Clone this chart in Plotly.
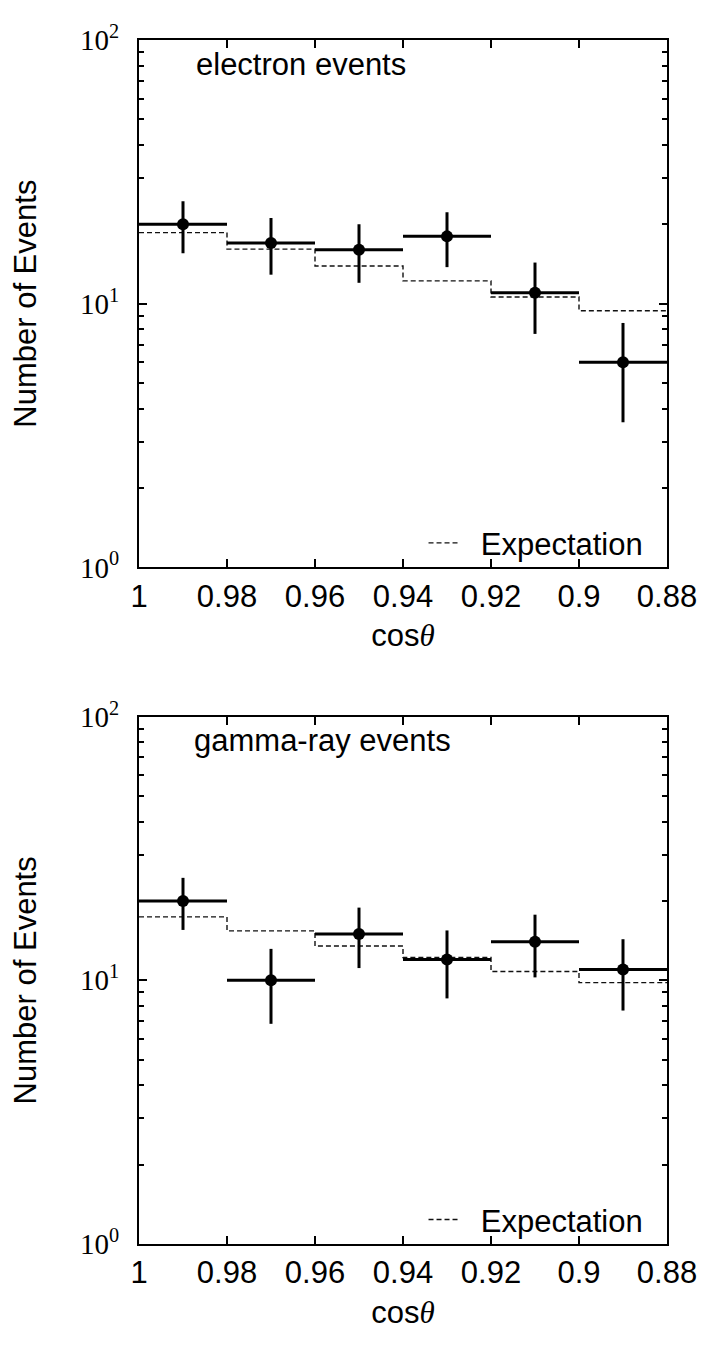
import plotly.graph_objects as go

# ---- data ----
bin_centers = [0.99, 0.97, 0.95, 0.93, 0.91, 0.89]
bin_edges = [1.00, 0.98, 0.96, 0.94, 0.92, 0.90, 0.88]
bin_halfwidth = [0.01, 0.01, 0.01, 0.01, 0.01, 0.01]

electron_counts = [20, 17, 16, 18, 11, 6]
electron_err = [4.47, 4.12, 4.00, 4.24, 3.32, 2.45]
electron_expect = [18.6, 16.1, 13.9, 12.2, 10.6, 9.4]

gamma_counts = [20, 10, 15, 12, 14, 11]
gamma_err = [4.47, 3.16, 3.87, 3.46, 3.74, 3.32]
gamma_expect = [17.4, 15.4, 13.5, 12.2, 10.8, 9.8]

x_tickvals = [1.0, 0.98, 0.96, 0.94, 0.92, 0.90, 0.88]
x_ticktext = ["1", "0.98", "0.96", "0.94", "0.92", "0.9", "0.88"]
y_tickvals = [1, 10, 100]
y_ticktext = ["10<sup>0</sup>", "10<sup>1</sup>", "10<sup>2</sup>"]

panel_labels = ["electron events", "gamma-ray events"]

SANS = "Liberation Sans, Arial, sans-serif"
SERIF = "Liberation Serif, Times New Roman, serif"
FS = 31

fig = go.Figure()

panels = [
    (electron_counts, electron_err, electron_expect, "x", "y", "legend"),
    (gamma_counts, gamma_err, gamma_expect, "x2", "y2", "legend2"),
]

for counts, err, expect, xa, ya, lg in panels:
    fig.add_trace(go.Scatter(
        x=bin_edges, y=expect + [expect[-1]],
        mode="lines", line=dict(shape="hv", color="#111111", width=1.4, dash="5px,3px"),
        name="\u00a0\u00a0Expectation", xaxis=xa, yaxis=ya, legend=lg, showlegend=True,
    ))
    fig.add_trace(go.Scatter(
        x=bin_centers, y=counts, mode="markers",
        marker=dict(color="black", size=12, symbol="circle"),
        error_x=dict(type="data", array=bin_halfwidth, color="black", thickness=3, width=0),
        error_y=dict(type="data", array=err, color="black", thickness=3, width=0),
        xaxis=xa, yaxis=ya, showlegend=False,
    ))

x_common = dict(
    range=[1.0, 0.88], tickvals=x_tickvals, ticktext=x_ticktext,
    ticks="inside", ticklen=8, tickwidth=1.5, tickcolor="black",
    showline=True, linecolor="black", linewidth=2, mirror="ticks",
    showgrid=False, zeroline=False,
    tickfont=dict(family=SANS, size=FS, color="black"),
    title=dict(text='cos<span style="font-family:Liberation Serif"><i>θ</i></span>',
               font=dict(family=SANS, size=FS, color="black"), standoff=12),
)
y_common = dict(
    type="log", range=[0, 2], tickvals=y_tickvals, ticktext=y_ticktext,
    ticks="inside", ticklen=8, tickwidth=1.5, tickcolor="black",
    minor=dict(ticks="inside", ticklen=5, tickwidth=1.5, tickcolor="black", dtick="D1", showgrid=False),
    showline=True, linecolor="black", linewidth=2, mirror="ticks",
    showgrid=False, zeroline=False,
    tickfont=dict(family=SERIF, size=29, color="black"),
    ticklabelstandoff=12,
    title=dict(text="Number of Events", font=dict(family=SANS, size=FS, color="black"), standoff=38),
)

top_dom = [0.562, 1.0]
bot_dom = [0.0, 0.438]

fig.update_layout(
    width=701, height=1337,
    margin=dict(l=125, r=41, t=19, b=101),
    paper_bgcolor="white", plot_bgcolor="white",
    xaxis=dict(x_common, domain=[0, 1], anchor="y"),
    yaxis=dict(y_common, domain=top_dom, anchor="x"),
    xaxis2=dict(x_common, domain=[0, 1], anchor="y2"),
    yaxis2=dict(y_common, domain=bot_dom, anchor="x2"),
    legend=dict(x=0.965, y=top_dom[0] + 0.02, xanchor="right", yanchor="middle",
                bgcolor="rgba(0,0,0,0)", font=dict(family=SANS, size=FS, color="black")),
    legend2=dict(x=0.965, y=bot_dom[0] + 0.02, xanchor="right", yanchor="middle",
                 bgcolor="rgba(0,0,0,0)", font=dict(family=SANS, size=FS, color="black")),
    annotations=[
        dict(text=panel_labels[0], xref="paper", yref="paper", x=0.104, y=0.980,
             xanchor="left", yanchor="middle", showarrow=False,
             font=dict(family=SANS, size=FS, color="black")),
        dict(text=panel_labels[1], xref="paper", yref="paper", x=0.100, y=0.418,
             xanchor="left", yanchor="middle", showarrow=False,
             font=dict(family=SANS, size=FS, color="black")),
    ],
)

fig.write_html("out.html")
